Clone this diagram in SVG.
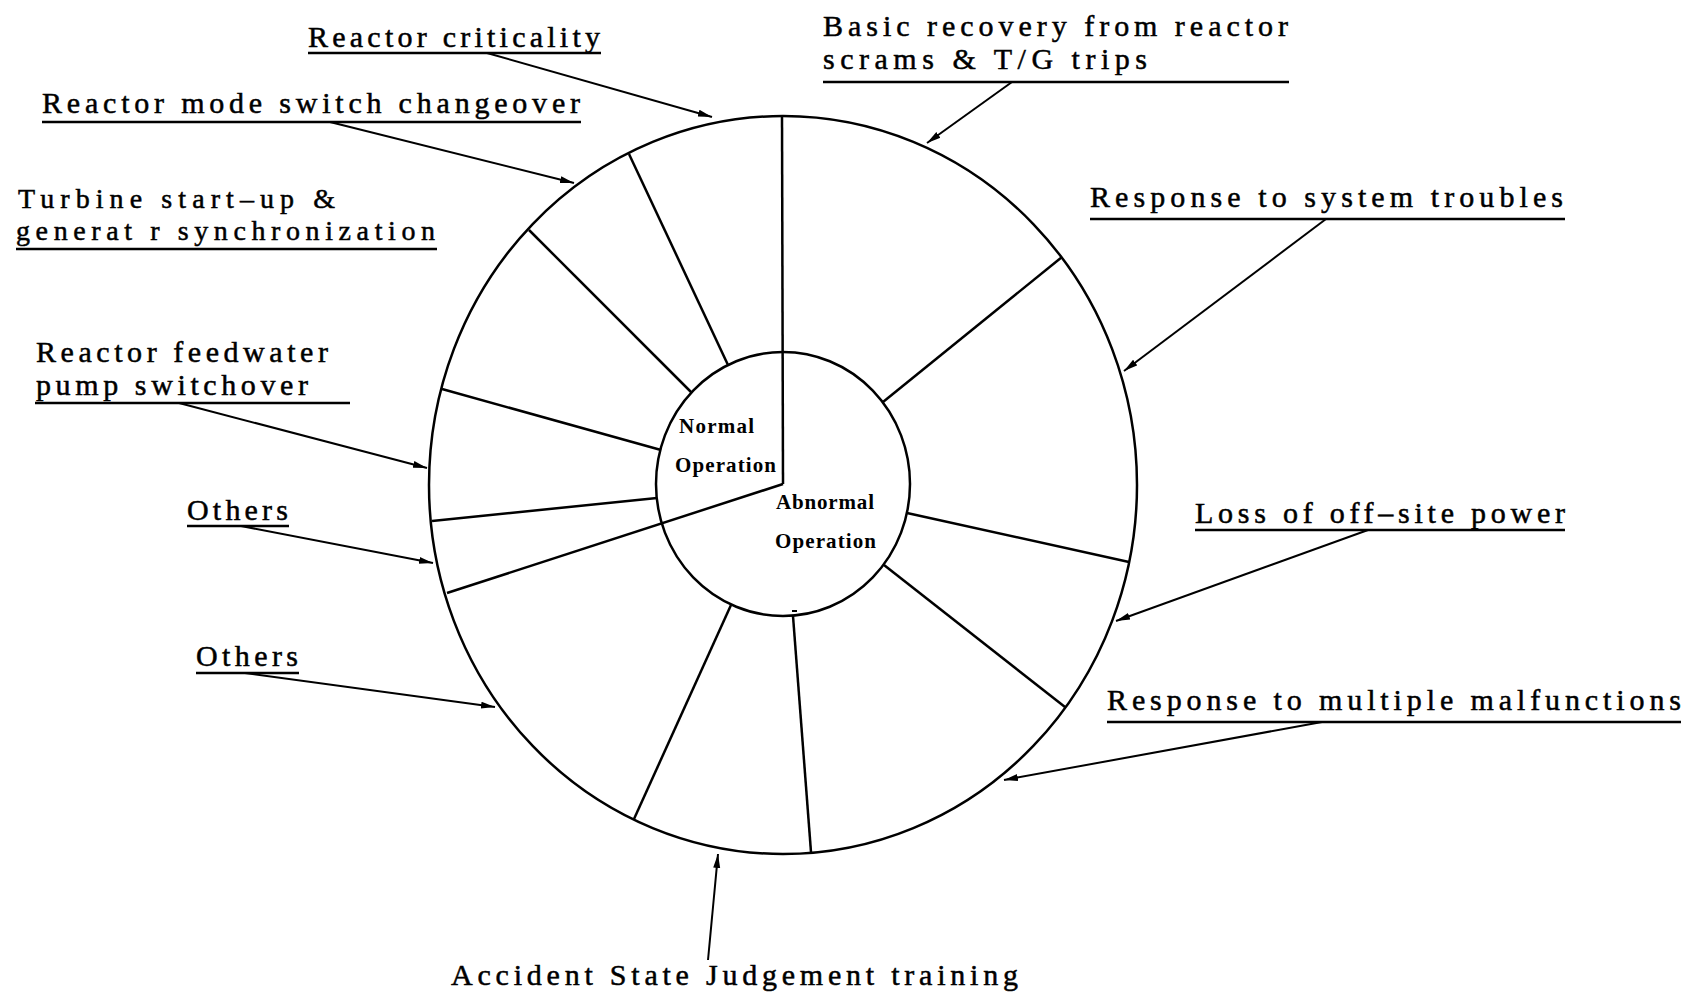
<svg xmlns="http://www.w3.org/2000/svg" width="1687" height="997" viewBox="0 0 1687 997">
<style>
.lbl{font-family:"Liberation Serif","DejaVu Serif",serif;font-size:30px;fill:#000;stroke:#000;stroke-width:0.5}
.sm{font-size:28px}
.ctr{font-family:"Liberation Serif","DejaVu Serif",serif;font-size:21px;font-weight:bold;fill:#000}
.ul{stroke:#000;stroke-width:2.5;fill:none}
.arr{stroke:#000;stroke-width:2;fill:none;marker-end:url(#ah)}
.wl{stroke:#000;stroke-width:2.5;fill:none}
</style>
<defs>
<marker id="ah" markerUnits="userSpaceOnUse" markerWidth="16" markerHeight="10" refX="14" refY="4.5" orient="auto">
<path d="M0,1 L14,4.5 L0,8 Z" fill="#000"/>
</marker>
</defs>
<rect width="1687" height="997" fill="#fff"/>
<g id="wheel">
<ellipse class="wl" cx="783" cy="485" rx="354" ry="369"/>
<ellipse class="wl" cx="783" cy="484" rx="127" ry="132"/>
<line class="wl" x1="782" y1="116" x2="783" y2="484"/>
<line class="wl" x1="783" y1="484" x2="447" y2="593"/>
<line class="wl" x1="629" y1="154" x2="728" y2="365"/>
<line class="wl" x1="529" y1="230" x2="692" y2="393"/>
<line class="wl" x1="442" y1="389" x2="661" y2="450"/>
<line class="wl" x1="432" y1="521" x2="657" y2="498"/>
<line class="wl" x1="1062" y1="257" x2="883" y2="402"/>
<line class="wl" x1="1129" y1="562" x2="907" y2="513"/>
<line class="wl" x1="1065" y1="707" x2="884" y2="565"/>
<line class="wl" x1="811" y1="852" x2="793" y2="616"/>
<line class="wl" x1="634" y1="819" x2="731" y2="605"/>
<line x1="792" y1="611" x2="797" y2="611" stroke="#000" stroke-width="2"/>
</g>
<g id="normal-operation">
<text class="ctr" x="679" y="433" textLength="75" lengthAdjust="spacing">Normal</text>
<text class="ctr" x="675" y="472" textLength="101" lengthAdjust="spacing">Operation</text>
</g>
<g id="abnormal-operation">
<text class="ctr" x="776" y="509" textLength="98" lengthAdjust="spacing">Abnormal</text>
<text class="ctr" x="775" y="548" textLength="101" lengthAdjust="spacing">Operation</text>
</g>
<g id="reactor-criticality">
<text class="lbl" x="308" y="47" textLength="292" lengthAdjust="spacing">Reactor criticality</text>
<line class="ul" x1="308" y1="53" x2="601" y2="53"/>
</g>
<g id="basic-recovery">
<text class="lbl" x="823" y="36" textLength="465" lengthAdjust="spacing">Basic recovery from reactor</text>
<text class="lbl" x="823" y="69" textLength="324" lengthAdjust="spacing">scrams &amp; T/G trips</text>
<line class="ul" x1="823" y1="82" x2="1289" y2="82"/>
</g>
<g id="mode-switch">
<text class="lbl" x="42" y="113" textLength="538" lengthAdjust="spacing">Reactor mode switch changeover</text>
<line class="ul" x1="42" y1="122" x2="581" y2="122"/>
</g>
<g id="turbine-startup">
<text class="lbl sm" x="18" y="208" textLength="317" lengthAdjust="spacing">Turbine start–up &amp;</text>
<text class="lbl sm" x="16" y="240" textLength="419" lengthAdjust="spacing">generat r synchronization</text>
<line class="ul" x1="16" y1="249" x2="437" y2="249"/>
</g>
<g id="feedwater">
<text class="lbl" x="36" y="362" textLength="292" lengthAdjust="spacing">Reactor feedwater</text>
<text class="lbl" x="36" y="395" textLength="272" lengthAdjust="spacing">pump switchover</text>
<line class="ul" x1="35" y1="403" x2="350" y2="403"/>
</g>
<g id="others-normal">
<text class="lbl" x="187" y="520" textLength="101" lengthAdjust="spacing">Others</text>
<line class="ul" x1="187" y1="526" x2="289" y2="526"/>
</g>
<g id="others-abnormal">
<text class="lbl" x="196" y="666" textLength="102" lengthAdjust="spacing">Others</text>
<line class="ul" x1="196" y1="673" x2="299" y2="673"/>
</g>
<g id="system-troubles">
<text class="lbl" x="1090" y="207" textLength="473" lengthAdjust="spacing">Response to system troubles</text>
<line class="ul" x1="1090" y1="219" x2="1565" y2="219"/>
</g>
<g id="offsite-power">
<text class="lbl" x="1195" y="523" textLength="370" lengthAdjust="spacing">Loss of off–site power</text>
<line class="ul" x1="1195" y1="530" x2="1565" y2="530"/>
</g>
<g id="multiple-malfunctions">
<text class="lbl" x="1107" y="710" textLength="574" lengthAdjust="spacing">Response to multiple malfunctions</text>
<line class="ul" x1="1107" y1="722" x2="1681" y2="722"/>
</g>
<g id="accident-judgement">
<text class="lbl" x="451" y="985" textLength="567" lengthAdjust="spacing">Accident State Judgement training</text>
</g>
<g id="connectors">
<line class="arr" x1="487" y1="53" x2="712" y2="117"/>
<line class="arr" x1="1012" y1="82" x2="927" y2="143"/>
<line class="arr" x1="330" y1="122" x2="574" y2="183"/>
<line class="arr" x1="179" y1="403" x2="427" y2="468"/>
<line class="arr" x1="241" y1="526" x2="433" y2="563"/>
<line class="arr" x1="245" y1="673" x2="495" y2="707"/>
<line class="arr" x1="1326" y1="219" x2="1124" y2="371"/>
<line class="arr" x1="1368" y1="530" x2="1116" y2="621"/>
<line class="arr" x1="1322" y1="722" x2="1004" y2="780"/>
<line class="arr" x1="708" y1="960" x2="718" y2="854"/>
</g>
</svg>
